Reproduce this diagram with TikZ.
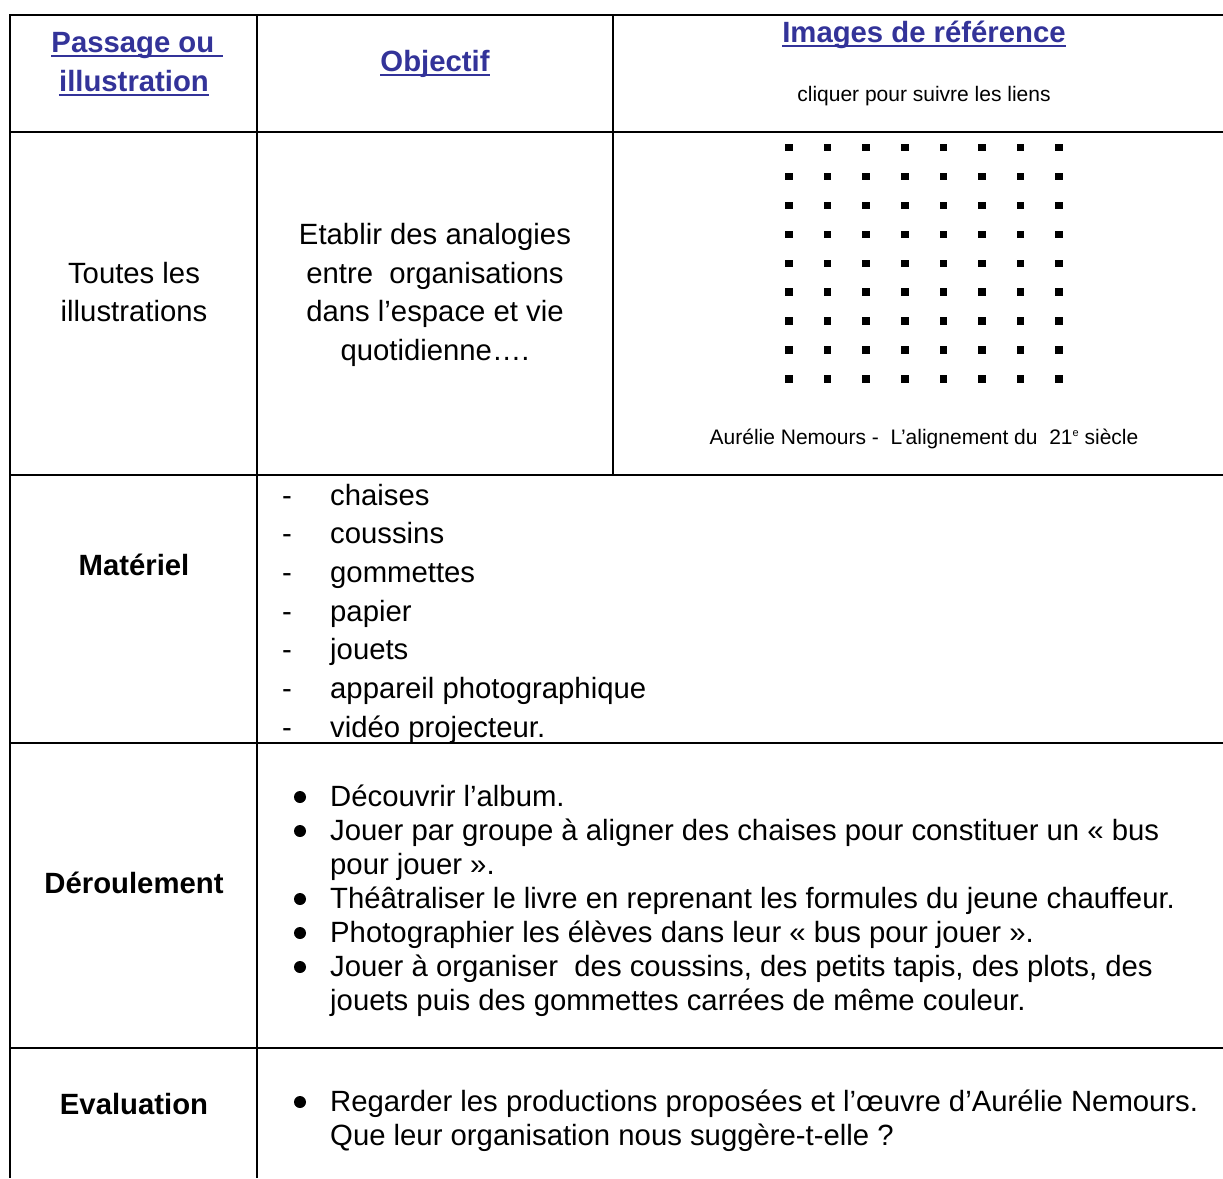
\documentclass[tikz,border=0pt]{standalone}
\usepackage{fontspec}
\setmainfont{Liberation Sans}
\definecolor{linkblue}{RGB}{51,51,153}
\begin{document}
\begin{tikzpicture}[x=1pt,y=-1pt,
  rule/.style={line width=2pt, black},
  body/.style={font=\fontsize{29.3}{38}\selectfont, inner sep=0pt, anchor=base},
  smalltext/.style={font=\fontsize{21}{25}\selectfont, inner sep=0pt, anchor=base},
  headtext/.style={font=\fontsize{29.3}{38}\selectfont\bfseries, text=linkblue, inner sep=0pt, anchor=base},
  ulstyle/.style={line width=2pt, linkblue},
  rowlabel/.style={font=\fontsize{29.3}{38}\selectfont\bfseries, inner sep=0pt, anchor=base},
  listitem/.style={body, anchor=base west},
  bulletdot/.style={circle, fill=black, minimum size=12pt, inner sep=0pt, draw=none},
  sqdot/.style={rectangle, fill=black, minimum size=7.5pt, inner sep=0pt, draw=none}]
\useasboundingbox (0,0) rectangle (1223,1178);
\clip (0,0) rectangle (1223,1178);
\fill[white] (0,0) rectangle (1223,1178);

% grid lines
\draw[rule] (1223,15) -- (10,15) -- (10,1178);
\draw[rule] (10,132) -- (1223,132);
\draw[rule] (10,475) -- (1223,475);
\draw[rule] (10,743) -- (1223,743);
\draw[rule] (10,1048) -- (1223,1048);
\draw[rule] (257,15) -- (257,1178);
\draw[rule] (613,15) -- (613,475);

% header
\node[headtext] (h1a) at (137,52) {Passage ou\kern0.28em};
\node[headtext] (h1b) at (134,91) {illustration};
\node[headtext] (h2) at (435,71) {Objectif};
\node[headtext] (h3) at (924,42) {Images de référence};
\foreach \n in {h1a,h1b,h2,h3}
  \draw[ulstyle] ([yshift=-4pt]\n.base west) -- ([yshift=-4pt]\n.base east);
\node[smalltext] (h3b) at (924,101) {cliquer pour suivre les liens};

% row 1
\node[body] (r1a) at (134,283) {Toutes les};
\node[body] (r1b) at (134,321) {illustrations};
\node[body] (o1) at (435,244) {Etablir des analogies};
\node[body] (o2) at (435,283) {entre\ \ organisations};
\node[body] (o3) at (435,321) {dans l’espace et vie};
\node[body] (o4) at (435,360) {quotidienne….};
\foreach \i in {0,...,7}
  \foreach \j in {0,...,8}
    \node[sqdot] (d\i-\j) at (789+38.6*\i, 147.7+28.9*\j) {};
\node[smalltext] (cap) at (924,444) {Aurélie Nemours -\ \ L’alignement du\ \ 21\raisebox{0.35em}{\fontsize{11}{11}\selectfont e} siècle};

% Matériel
\node[rowlabel] (mat) at (134,575) {Matériel};
\foreach \t [count=\k from 0] in {chaises,coussins,gommettes,papier,jouets,appareil photographique,vidéo projecteur.}{
  \node[listitem] (md\k) at (282,505+38.7*\k) {-};
  \node[listitem] (mt\k) at (330,505+38.7*\k) {\t};
}

% Déroulement
\node[rowlabel] (der) at (134,893) {Déroulement};
\node[listitem] (l1) at (330,806) {Découvrir l’album.};
\node[listitem] (l2) at (330,840) {Jouer par groupe à aligner des chaises pour constituer un « bus};
\node[listitem] (l3) at (330,874) {pour jouer ».};
\node[listitem] (l4) at (330,908) {Théâtraliser le livre en reprenant les formules du jeune chauffeur.};
\node[listitem] (l5) at (330,942) {Photographier les élèves dans leur « bus pour jouer ».};
\node[listitem] (l6) at (330,976) {Jouer à organiser\ \ des coussins, des petits tapis, des plots, des};
\node[listitem] (l7) at (330,1010) {jouets puis des gommettes carrées de même couleur.};
\foreach \n in {l1,l2,l4,l5,l6}
  \node[bulletdot] (b\n) at ([xshift=-30pt,yshift=9pt]\n.base west) {};

% Evaluation
\node[rowlabel] (ev) at (134,1114) {Evaluation};
\node[listitem] (e1) at (330,1111) {Regarder les productions proposées et l’œuvre d’Aurélie Nemours.};
\node[listitem] (e2) at (330,1145) {Que leur organisation nous suggère-t-elle ?};
\node[bulletdot] (be1) at ([xshift=-30pt,yshift=9pt]e1.base west) {};
\end{tikzpicture}
\end{document}
